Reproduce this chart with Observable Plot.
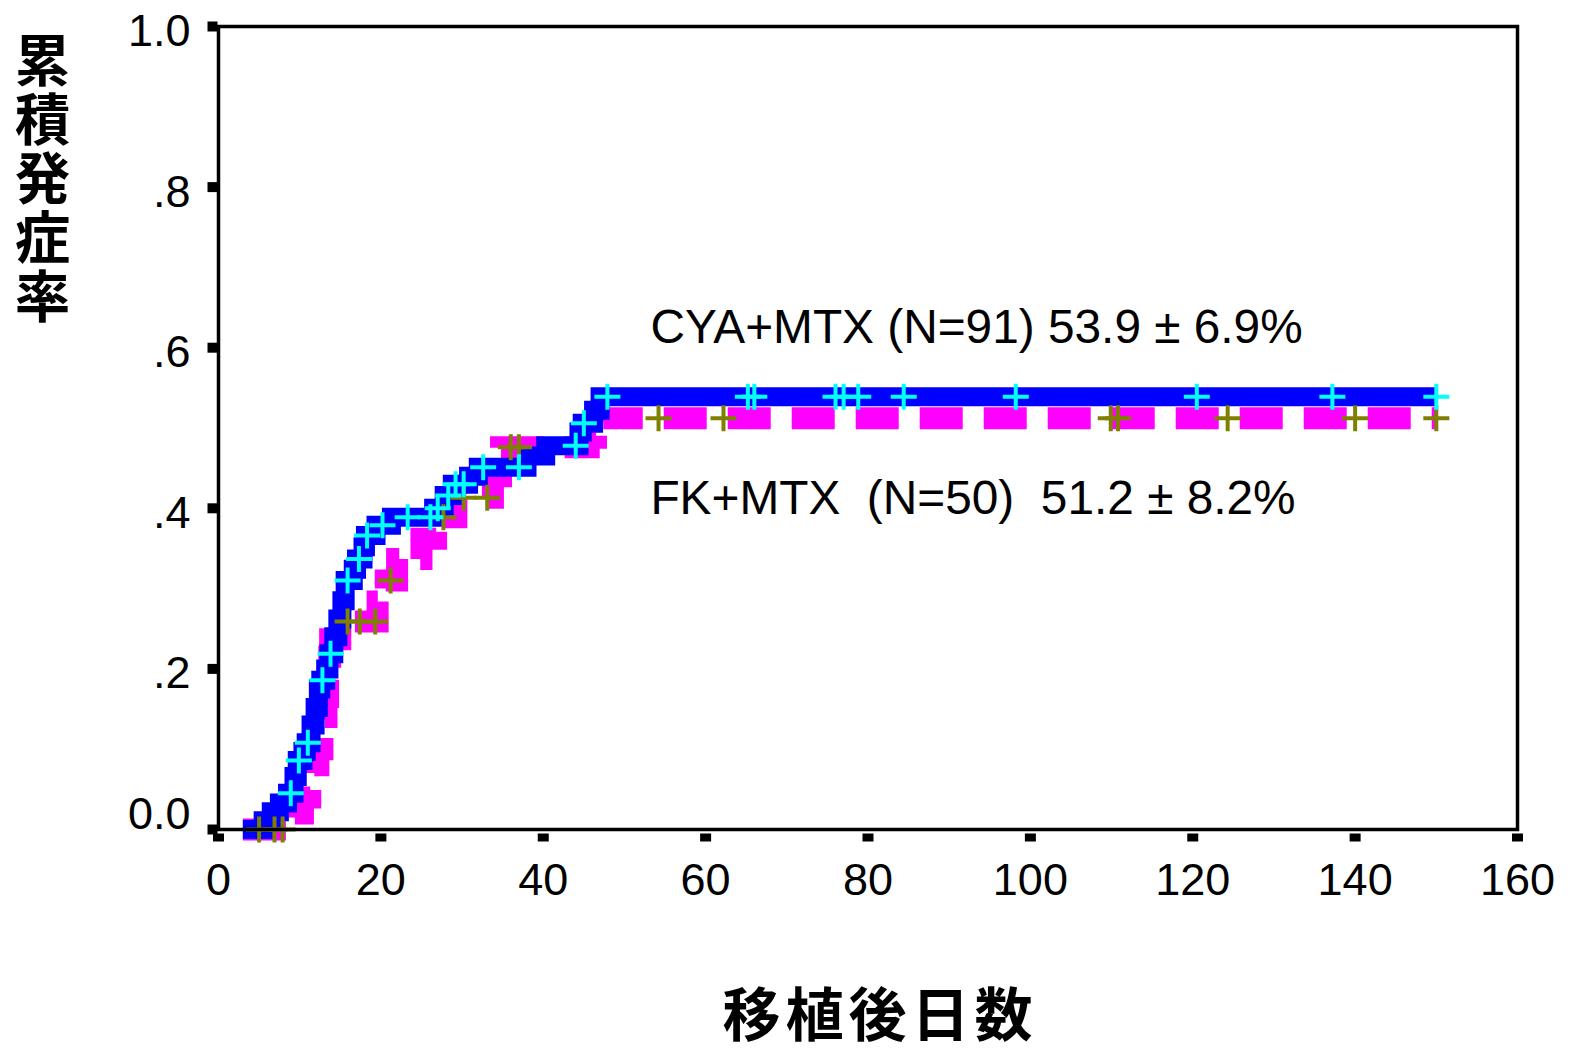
<!DOCTYPE html>
<html>
<head>
<meta charset="utf-8">
<script src="https://cdn.jsdelivr.net/npm/d3@7"></script>
<script src="https://cdn.jsdelivr.net/npm/@observablehq/plot@0.6"></script>
<style>
  body { margin: 0; background: #fff; }
</style>
</head>
<body>
<div id="chart"></div>
<script>
// CYA+MTX: day of each event and cumulative incidence after it
const cyaDays = [3, 5.5, 6.5, 7.5, 8.5, 9.3, 9.7, 10.4, 10.8, 11.4, 11.9, 12.3, 12.6, 13.2, 13.6, 14.2, 14.7, 15.2, 15.6, 16.6, 17.0, 17.8, 18.1, 19.4, 21.3, 26.5, 27.8, 28.8, 30.8, 32.0, 38.0, 40.3, 44.4, 44.8, 46.2, 47.0];
const cyaRate = [0, 0.011, 0.022, 0.033, 0.045, 0.066, 0.086, 0.097, 0.108, 0.13, 0.152, 0.175, 0.186, 0.20, 0.219, 0.24, 0.262, 0.285, 0.31, 0.324, 0.337, 0.352, 0.366, 0.379, 0.389, 0.40, 0.416, 0.43, 0.44, 0.451, 0.465, 0.478, 0.495, 0.506, 0.522, 0.539];
// CYA+MTX: censored days
const cyaCensorDays = [8.9, 9.9, 11.0, 12.8, 13.8, 15.9, 17.3, 18.3, 20.2, 23.3, 26.1, 27.0, 28.3, 29.2, 30.2, 32.6, 37.0, 44.0, 45.0, 47.9, 65.2, 66.0, 76.0, 77.0, 78.8, 84.4, 98.2, 120.5, 137.2, 150.0];

// FK+MTX: day of each event and cumulative incidence after it
const fkDays = [3, 9.4, 10.4, 11.3, 11.8, 12.3, 12.8, 13.1, 13.3, 13.5, 13.65, 13.75, 15.0, 19.6, 20.6, 22.0, 25.0, 26.8, 29.3, 33.8, 34.8, 45.6, 46.5, 47.4];
const fkRate = [0, 0.02, 0.04, 0.06, 0.08, 0.10, 0.12, 0.14, 0.165, 0.19, 0.215, 0.237, 0.259, 0.284, 0.31, 0.337, 0.362, 0.389, 0.413, 0.44, 0.476, 0.488, 0.50, 0.512];
// FK+MTX: censored days
const fkCensorDays = [5.0, 6.9, 7.9, 15.9, 17.4, 19.3, 21.2, 27.7, 30.2, 33.1, 36.0, 37.0, 54.2, 62.2, 109.9, 110.8, 124.3, 140.0, 150.0];

const lastFollowUpDay = 150;

const xTicks = [0, 20, 40, 60, 80, 100, 120, 140, 160];
const yTicks = [0, 0.2, 0.4, 0.6, 0.8, 1.0];
const yTickLabels = ["0.0", ".2", ".4", ".6", ".8", "1.0"];

const cyaLabel = "CYA+MTX (N=91) 53.9 ± 6.9%";
const fkLabel = "FK+MTX\u00a0\u00a0(N=50)\u00a0\u00a051.2 ± 8.2%";
const xTitle = "移植後日数";
const yTitle = "累積発症率";

// step series extended to the last follow-up day
function series(days, rate) {
  const pts = days.map((d, i) => ({day: d, rate: rate[i]}));
  pts.push({day: lastFollowUpDay, rate: rate[rate.length - 1]});
  return pts;
}
// curve value at a given day (for placing censor marks on the step line)
function rateAt(days, rate, t) {
  let v = 0;
  for (let i = 0; i < days.length; i++) if (days[i] <= t) v = rate[i];
  return v;
}
const cya = series(cyaDays, cyaRate);
const fk = series(fkDays, fkRate);
const cyaCensor = cyaCensorDays.map(d => ({day: d, rate: rateAt(cyaDays, cyaRate, d)}));
const fkCensor = fkCensorDays.map(d => ({day: d, rate: rateAt(fkDays, fkRate, d)}));

// stroked "+" censor symbol
const plusSymbol = {
  draw(context, size) {
    const r = Math.sqrt(size / Math.PI);
    context.moveTo(-r, 0); context.lineTo(r, 0);
    context.moveTo(0, -r); context.lineTo(0, r);
  }
};
// small filled block used for axis ticks
const xTickSymbol = { draw(context) { context.rect(-5.5, -4, 11, 8); } };
const yTickSymbol = { draw(context) { context.rect(-5, -5, 10, 10); } };

const cjk = "'Noto Sans CJK JP', 'Noto Sans CJK SC', sans-serif";

const chart = Plot.plot({
  width: 1571,
  height: 1052,
  marginLeft: 218,
  marginRight: 54,
  marginTop: 26,
  marginBottom: 223,
  style: {fontFamily: "'Liberation Sans', Arial, sans-serif", background: "#fff", overflow: "visible"},
  x: {domain: [0, 160]},
  y: {domain: [0, 1]},
  marks: [
    // FK+MTX curve (dashed magenta)
    Plot.line(fk, {x: "day", y: "rate", curve: "step-after", stroke: "#ff00ff", strokeWidth: 22,
      strokeDasharray: "43,21", strokeLinecap: "butt", strokeLinejoin: "miter", strokeMiterlimit: 10}),
    // CYA+MTX curve (solid blue)
    Plot.line(cya, {x: "day", y: "rate", curve: "step-after", stroke: "#0000ff", strokeWidth: 19,
      strokeLinecap: "butt", strokeLinejoin: "miter", strokeMiterlimit: 10}),
    // censor marks
    Plot.dot(fkCensor, {x: "day", y: "rate", symbol: plusSymbol, r: 13, fill: "none", stroke: "#808000", strokeWidth: 4}),
    Plot.dot(cyaCensor, {x: "day", y: "rate", symbol: plusSymbol, r: 13, fill: "none", stroke: "#00ffff", strokeWidth: 4}),
    // frame and tick blocks
    Plot.frame({stroke: "#000", strokeWidth: 3.5}),
    Plot.dot(yTicks, {x: 0, y: d => d, symbol: yTickSymbol, r: 5, fill: "#000", dx: -6}),
    Plot.dot(xTicks, {x: d => d, y: 0, symbol: xTickSymbol, r: 5, fill: "#000", dy: 8}),
    // tick labels
    Plot.axisX({ticks: xTicks, tickSize: 0, tickPadding: 34, fontSize: 45, label: null,
      tickFormat: d => String(d), fill: "#000"}),
    Plot.axisY({ticks: yTicks.slice(1), tickSize: 0, tickPadding: 28, fontSize: 45, dy: 5, label: null,
      tickFormat: d => yTickLabels[yTicks.indexOf(d)], fill: "#000"}),
    Plot.axisY({ticks: yTicks.slice(0, 1), tickSize: 0, tickPadding: 28, fontSize: 45, dy: -15, label: null,
      tickFormat: d => yTickLabels[yTicks.indexOf(d)], fill: "#000"}),
    // group annotations
    Plot.text([cyaLabel], {x: 53.2, y: 0.625, text: d => d, textAnchor: "start", fontSize: 47.8, fill: "#000"}),
    Plot.text([fkLabel], {x: 53.2, y: 0.412, text: d => d, textAnchor: "start", fontSize: 47.8, fill: "#000"}),
    // axis titles
    Plot.text([xTitle], {frameAnchor: "bottom", dx: 12, dy: 206, text: d => d, fontSize: 58, fontWeight: "bold",
      fontFamily: cjk, fill: "#000"}),
    Plot.text([yTitle], {frameAnchor: "top-left", dx: -176, dy: -34, text: d => d,
      fontSize: 55.5, fontWeight: "bold", fontFamily: cjk, fill: "#000"})
  ]
});

// letter spacing for the x title, and upright vertical setting for the y title
d3.select(chart).selectAll("text")
  .filter(function() { return this.textContent === xTitle; })
  .style("letter-spacing", "5px");
d3.select(chart).selectAll("text")
  .filter(function() { return this.textContent === yTitle; })
  .attr("dy", null)
  .style("writing-mode", "vertical-rl")
  .style("text-orientation", "upright")
  .style("text-anchor", "start")
  .style("letter-spacing", "3.5px");

document.getElementById("chart").appendChild(chart);
</script>
</body>
</html>
